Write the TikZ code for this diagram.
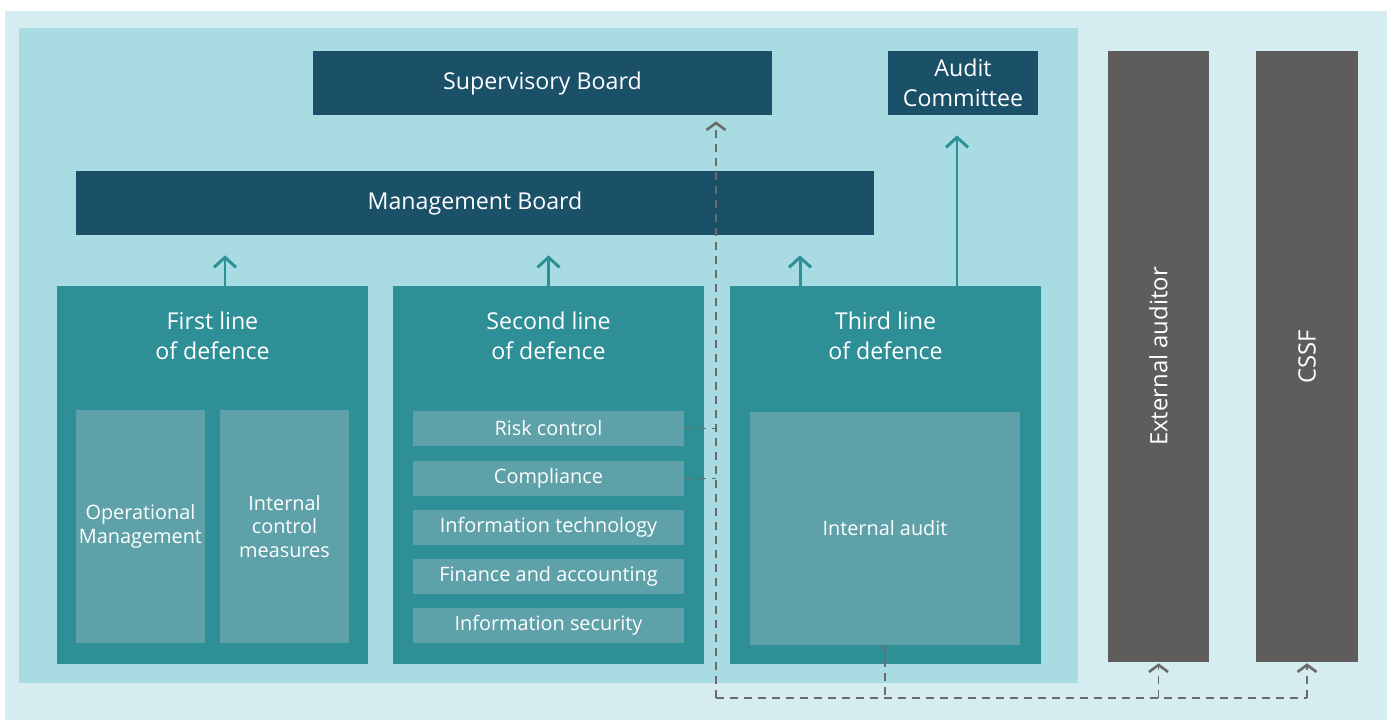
\documentclass[tikz,border=0pt]{standalone}
\usepackage{fontspec}
\setmainfont{Open Sans}
\usepackage{tikz}
\usetikzlibrary{arrows.meta,positioning}
\definecolor{outerbg}{HTML}{D5EDF1}
\definecolor{innerbg}{HTML}{A8DCE2}
\definecolor{boardblue}{HTML}{1A5169}
\definecolor{linebox}{HTML}{2E8F96}
\definecolor{unitbox}{HTML}{5EA1A9}
\definecolor{extgray}{HTML}{5E5D5B}
\definecolor{dashgray}{HTML}{6B6B6B}
\tikzset{board/.style={rectangle,fill=boardblue,text=white,font=\fontsize{13.2}{17}\selectfont,minimum height=1.28cm,align=center,inner sep=0pt},
  linedef/.style={rectangle,fill=linebox,minimum width=6.22cm,minimum height=7.56cm,inner sep=0pt},
  linetitle/.style={text=white,font=\fontsize{13.2}{17}\selectfont,align=center},
  unit/.style={rectangle,fill=unitbox,text=white,font=\fontsize{11.3}{13.4}\selectfont,align=center,inner sep=0pt},
  outside/.style={rectangle,fill=extgray,text=white,minimum height=12.22cm,inner sep=0pt},
  outtext/.style={rotate=90,text=white,font=\fontsize{13.6}{16}\selectfont},
  uparrow/.style={draw=linebox,line width=1.7pt,-{Straight Barb[length=0.2cm,width=0.44cm,line width=1.7pt]}},
  dashlink/.style={draw=dashgray,line width=1.1pt,dash pattern=on 0.16cm off 0.12cm},
  dasharrow/.style={dashlink,-{Straight Barb[length=0.14cm,width=0.38cm,line width=1.5pt,line cap=butt]}}}

\begin{document}
\begin{tikzpicture}[x=0.02cm,y=-0.02cm]
    \useasboundingbox (0,0) rectangle (1387,720);
    \fill[outerbg] (5,11) rectangle (1387,720);
    \fill[innerbg] (19,28) rectangle (1078,683);

    \node[board,minimum width=9.18cm] (sup) at (542.5,83) {Supervisory Board};
    \node[board,minimum width=3cm] (audit) at (963,83) {Audit\\Committee};
    \node[board,minimum width=15.96cm] (mgmt) at (475,203) {Management Board};

    \node[linedef] (first) at (212.5,475) {};
    \node[linedef] (second) at (548.5,475) {};
    \node[linedef] (third) at (885.5,475) {};
    \node[linetitle,below=0.4cm of first.north] (firstt) {First line\\of defence};
    \node[linetitle,below=0.4cm of second.north] (secondt) {Second line\\of defence};
    \node[linetitle,below=0.4cm of third.north] (thirdt) {Third line\\of defence};

    \node[unit,minimum width=2.58cm,minimum height=4.66cm] (opm) at (140.5,526.5) {Operational\\Management};
    \node[unit,minimum width=2.58cm,minimum height=4.66cm] (icm) at (284.5,526.5) {Internal\\control\\measures};

    \node[unit,minimum width=5.42cm,minimum height=0.7cm] (risk) at (548.5,428.5) {Risk control};
    \node[unit,minimum width=5.42cm,minimum height=0.7cm] (comp) at (548.5,478.5) {Compliance};
    \node[unit,minimum width=5.42cm,minimum height=0.7cm] (itech) at (548.5,527.5) {Information technology};
    \node[unit,minimum width=5.42cm,minimum height=0.7cm] (fin) at (548.5,576.5) {Finance and accounting};
    \node[unit,minimum width=5.42cm,minimum height=0.7cm] (isec) at (548.5,625.5) {Information security};

    \node[unit,minimum width=5.4cm,minimum height=4.66cm] (ia) at (885,528.5) {Internal audit};

    \node[outside,minimum width=2.02cm] (ext) at (1158.5,356.5) {};
    \node[outside,minimum width=2.04cm] (cssf) at (1307,356.5) {};
    \node[outtext] (extt) at (ext) {External auditor};
    \node[outtext] (cssft) at (cssf) {CSSF};

    \draw [uparrow,shorten >=0.4cm] ([xshift=0.25cm]first.north) to [] ([xshift=0.25cm]first.north |- mgmt.south);
    \draw [uparrow,shorten >=0.4cm] (second.north) to [] (second.north |- mgmt.south);
    \draw [uparrow,shorten >=0.4cm] ([xshift=-1.71cm]third.north) to [] ([xshift=-1.71cm]third.north |- mgmt.south);
    \draw [uparrow,shorten >=0.4cm] ([xshift=1.43cm]third.north) to [] ([xshift=1.43cm]third.north |- audit.south);

    \coordinate (corner) at (716,698);
    \draw [dasharrow,shorten >=0.12cm] (corner) to [] (corner |- sup.south);
    \draw [dashlink] (risk.east) to [] (risk.east -| corner);
    \draw [dashlink] (comp.east) to [] (comp.east -| corner);
    \draw [dashlink] (ia.south) to [] (ia.south |- corner);
    \draw [dashlink] (corner) to [] (corner -| cssf.south);
    \draw [dasharrow,shorten >=0.02cm] (corner -| ext.south) to [] (ext.south);
    \draw [dasharrow,shorten >=0.02cm] (corner -| cssf.south) to [] (cssf.south);
\end{tikzpicture}
\end{document}
